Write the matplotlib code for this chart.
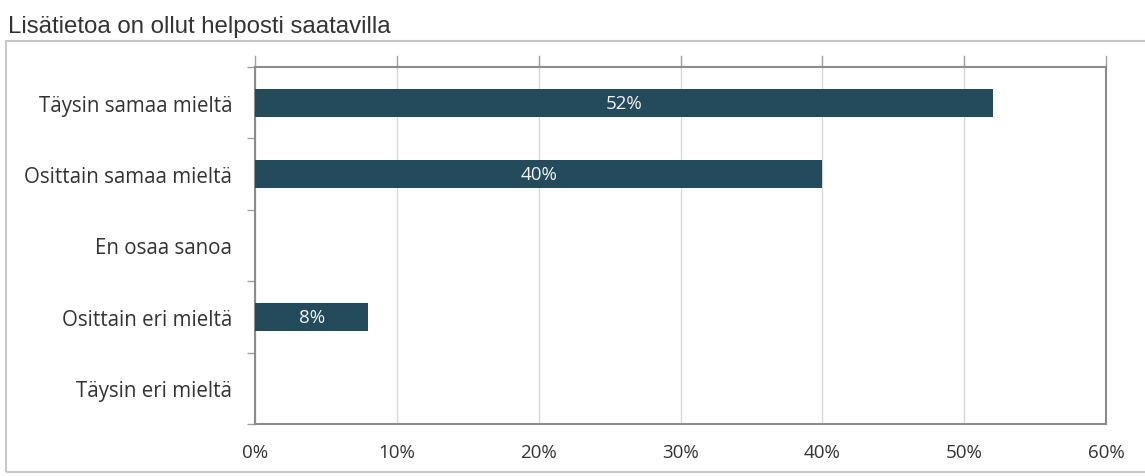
import matplotlib.pyplot as plt
from matplotlib.patches import Rectangle

title = "Lisätietoa on ollut helposti saatavilla"
categories = ["Täysin samaa mieltä", "Osittain samaa mieltä", "En osaa sanoa",
              "Osittain eri mieltä", "Täysin eri mieltä"]
values = [52, 40, 0, 8, 0]
xticks = [0, 10, 20, 30, 40, 50, 60]
xtick_labels = [f"{v}%" for v in xticks]

bar_color = "#244b5b"
label_font = ["Open Sans", "DejaVu Sans"]

W, H = 1145, 477
fig = plt.figure(figsize=(W / 100, H / 100), dpi=100)

# outer light frame around the chart
fig.patches.append(Rectangle((6 / W, 4 / H), (W - 4) / W, (H - 42 - 4) / H,
                             transform=fig.transFigure, fill=False,
                             edgecolor="#c8c8c8", linewidth=1.5))
fig.text(8 / W, 1 - 33 / H, title, fontsize=17.3, family="Liberation Sans",
         color="#333333", va="baseline")

ax = fig.add_axes([255 / W, 1 - 425 / H, (1106 - 255) / W, (425 - 68) / H])

n = len(categories)
ypos = list(range(n))
ax.barh(ypos, values, height=0.39, color=bar_color, zorder=3)
for y, v in zip(ypos, values):
    if v > 0:
        ax.text(v / 2, y, f"{v}%", ha="center", va="center", color="#f2f2f2",
                fontsize=13.5, family=label_font, zorder=4)

ax.set_xlim(0, 60)
ax.set_ylim(n - 0.5, -0.5)
ax.set_xticks(xticks)
ax.set_xticklabels(xtick_labels, family=label_font, fontsize=13.5, color="#333333")
ax.grid(axis="x", color="#d9d9d9", linewidth=1, zorder=0)

# category labels centred on bars; ticks at category boundaries
ax.set_yticks(ypos)
ax.set_yticklabels(categories, family=label_font, fontsize=14.8, color="#333333")
ax.tick_params(axis="y", length=0, pad=16.5)
ax.set_yticks([i + 0.5 for i in range(-1, n)], minor=True)
ax.tick_params(axis="y", which="minor", length=6, color="#a0a0a0", width=1)

ax.tick_params(axis="x", length=0, pad=14)
for x in xticks:
    ax.plot([x, x], [1, 1.03], transform=ax.get_xaxis_transform(),
            color="#a0a0a0", linewidth=1, clip_on=False)

for s in ax.spines.values():
    s.set_color("#8c8c8c")
    s.set_linewidth(1.5)

fig.savefig("out.png", dpi=100, facecolor="white")
